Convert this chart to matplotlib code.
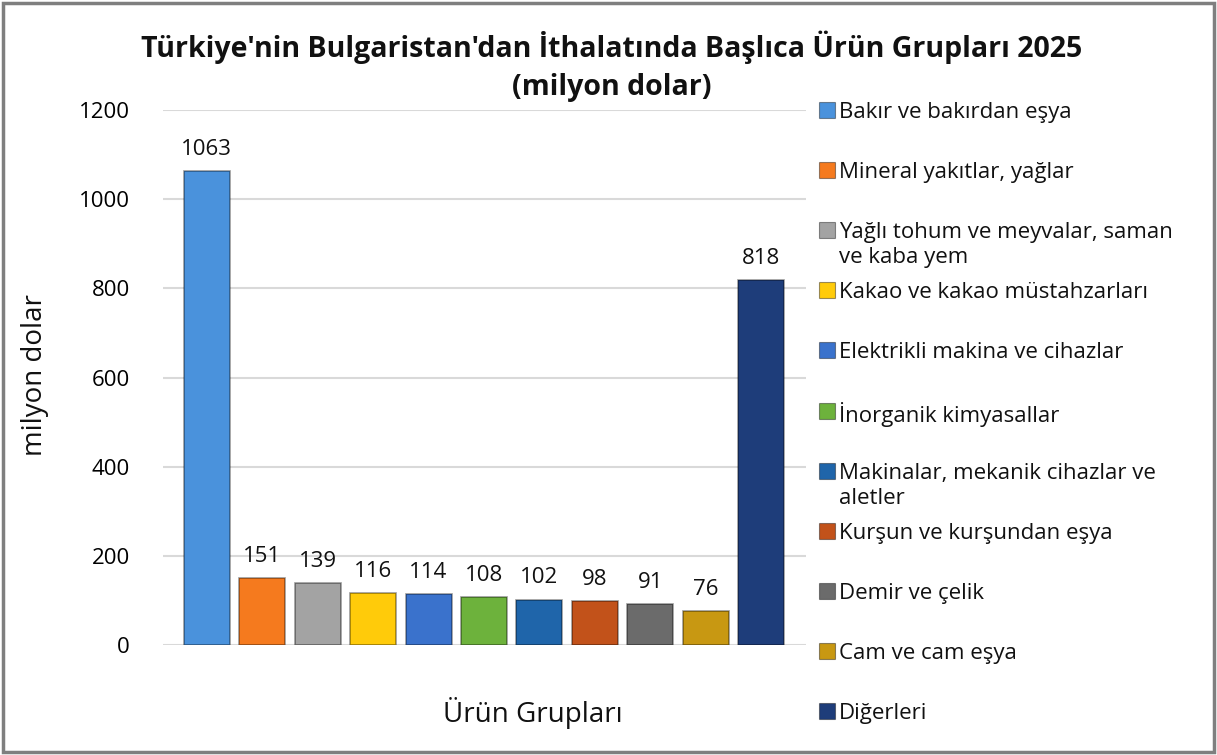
import matplotlib
matplotlib.use("Agg")
import matplotlib.pyplot as plt
from matplotlib.patches import Rectangle

categories = [
    "Bakır ve bakırdan eşya",
    "Mineral yakıtlar, yağlar",
    "Yağlı tohum ve meyvalar, saman\nve kaba yem",
    "Kakao ve kakao müstahzarları",
    "Elektrikli makina ve cihazlar",
    "İnorganik kimyasallar",
    "Makinalar, mekanik cihazlar ve\naletler",
    "Kurşun ve kurşundan eşya",
    "Demir ve çelik",
    "Cam ve cam eşya",
    "Diğerleri",
]
values = [1063, 151, 139, 116, 114, 108, 102, 98, 91, 76, 818]
colors = ["#4A92DC", "#F57A1E", "#A3A3A3", "#FFCB0A", "#3A72CC", "#6DB23C",
          "#1F65AA", "#C2521A", "#6B6B6B", "#C89812", "#1E3D7A"]
yticks = [0, 200, 400, 600, 800, 1000, 1200]

plt.rcParams['font.family'] = ['Open Sans', 'DejaVu Sans']

W, H = 1217, 755
fig = plt.figure(figsize=(W / 100, H / 100), dpi=100)
ax = fig.add_axes([163 / W, 1 - 645 / H, (806 - 163) / W, (645 - 110) / H])

x = list(range(len(values)))
bars = ax.bar(x, values, width=0.83, color=colors, linewidth=1.2,
              edgecolor=(0, 0, 0, 0.4), zorder=3)

for xi, v in zip(x, values):
    ax.annotate(str(v), (xi, v), xytext=(0, 8), textcoords="offset points",
                ha="center", va="bottom", fontsize=16, color="#111111")

ax.set_xlim(-0.79, 10.81)
ax.set_ylim(0, 1200)
ax.set_yticks(yticks)
ax.set_yticklabels([str(t) for t in yticks], fontsize=16)
ax.set_xticks([])
ax.grid(axis="y", color="#D9D9D9", linewidth=1.5, zorder=0)
for s in ax.spines.values():
    s.set_visible(False)
ax.tick_params(axis="y", length=0, pad=24)

fig.text(35 / W, 1 - 375 / H, "milyon dolar", rotation=90, ha="center", va="center",
         fontsize=20, color="#111111")
fig.text(533 / W, 1 - 713 / H, "Ürün Grupları", ha="center", va="center",
         fontsize=20, color="#111111")

fig.text(612 / W, 1 - 47 / H, "Türkiye'nin Bulgaristan'dan İthalatında Başlıca Ürün Grupları 2025",
         ha="center", va="center", fontsize=20.5, fontweight="bold", color="#111111")
fig.text(612 / W, 1 - 87 / H, "(milyon dolar)",
         ha="center", va="center", fontsize=20.5, fontweight="bold", color="#111111")

# legend
for i, (lab, c) in enumerate(zip(categories, colors)):
    yc = 110 + i * 60.1
    fig.patches.append(Rectangle((819 / W, 1 - (yc + 8) / H), 16 / W, 16 / H,
                                 transform=fig.transFigure, facecolor=c,
                                 edgecolor=(0, 0, 0, 0.4), linewidth=0.8))
    fig.text(839 / W, 1 - (yc - 8) / H, lab, ha="left", va="top", fontsize=16,
             color="#111111", linespacing=1.25)

# border
fig.patches.append(Rectangle((3 / W, 3 / H), (W - 6) / W, (H - 6) / H,
                             transform=fig.transFigure, fill=False,
                             edgecolor="#7F7F7F", linewidth=2.5))

fig.savefig("out.png", dpi=100)
